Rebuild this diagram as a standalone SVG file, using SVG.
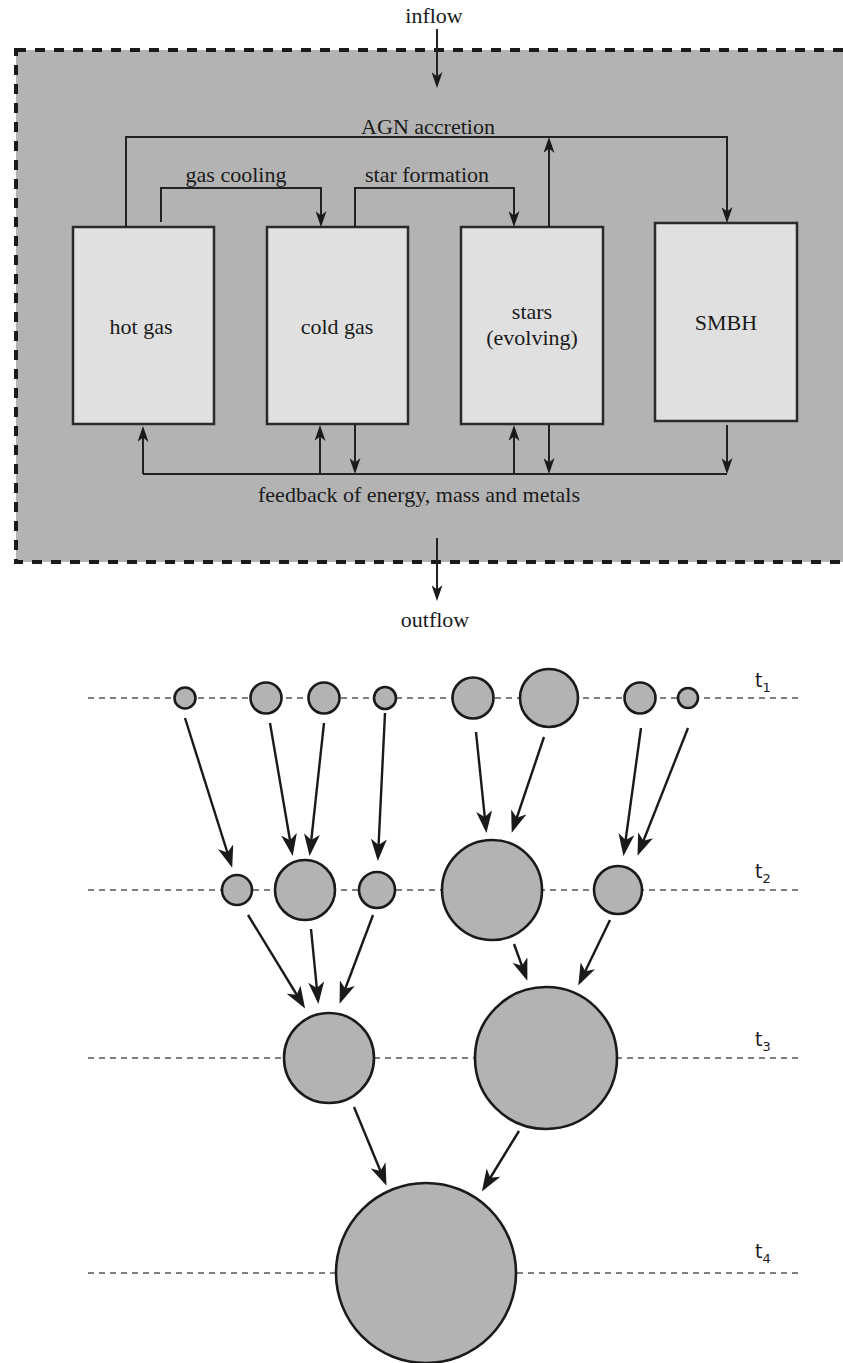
<svg xmlns="http://www.w3.org/2000/svg" width="843" height="1363" viewBox="0 0 843 1363">
<style>
.lbl{font-family:"Liberation Serif","Times New Roman",serif;font-size:22px;fill:#1a1a1a;text-anchor:middle}
.box{fill:#e0e0e0;stroke:#2a2a2a;stroke-width:2.5}
.ln{fill:none;stroke:#222;stroke-width:2}
.ar{fill:none;stroke:#222;stroke-width:2;marker-end:url(#ah)}
.gal{fill:#b3b3b3;stroke:#1a1a1a;stroke-width:2.6}
.tl{stroke:#555;stroke-width:1.3;stroke-dasharray:6 5}
.big{fill:none;stroke:#1a1a1a;stroke-width:2.4;marker-end:url(#bh)}
.tt{font-family:"DejaVu Sans","Noto Sans",sans-serif;font-size:19px;fill:#1a1a1a}
.ts{font-family:"DejaVu Sans","Noto Sans",sans-serif;font-size:13px;fill:#1a1a1a}
</style>
<defs>
<marker id="ah" viewBox="0 0 16 11" refX="12" refY="5.5" markerWidth="16" markerHeight="11" orient="auto" markerUnits="userSpaceOnUse">
<path d="M0,0 L16,5.5 L0,11 L4.5,5.5 Z" fill="#1a1a1a"/>
</marker>
<marker id="bh" viewBox="0 0 22 16" refX="18" refY="8" markerWidth="22" markerHeight="16" orient="auto" markerUnits="userSpaceOnUse">
<path d="M0,0 L22,8 L0,16 L6,8 Z" fill="#1a1a1a"/>
</marker>
</defs>

<!-- enclosing dashed box -->
<rect x="16" y="50" width="840" height="512" fill="#b3b3b3" stroke="#1a1a1a" stroke-width="4" stroke-dasharray="10 9"/>

<g id="inflow">
<text class="lbl" x="434" y="23">inflow</text>
</g>
<g id="outflow">
<text class="lbl" x="435" y="627">outflow</text>
</g>

<g id="hot-gas">
<rect class="box" x="73" y="227" width="141" height="197"/>
<text class="lbl" x="141" y="334">hot gas</text>
</g>
<g id="cold-gas">
<rect class="box" x="267" y="227" width="141" height="197"/>
<text class="lbl" x="337" y="334">cold gas</text>
</g>
<g id="stars">
<rect class="box" x="461" y="227" width="142" height="197"/>
<text class="lbl" x="532" y="319">stars</text>
<text class="lbl" x="532" y="345">(evolving)</text>
</g>
<g id="smbh">
<rect class="box" x="655" y="223" width="142" height="198"/>
<text class="lbl" x="726" y="330">SMBH</text>
</g>

<g id="connectors-top">
<line class="ar" x1="437" y1="29" x2="437" y2="84"/>
<line class="ar" x1="437" y1="538" x2="437" y2="597"/>
<polyline class="ar" points="126,227 126,137 727,137 727,219"/>
<line class="ar" x1="549" y1="227" x2="549" y2="141"/>
<polyline class="ar" points="161,222 161,188 321,188 321,223"/>
<polyline class="ar" points="355,227 355,188 514,188 514,223"/>
<line class="ln" x1="143" y1="474" x2="727" y2="474"/>
<line class="ar" x1="143" y1="474" x2="143" y2="430"/>
<line class="ar" x1="320" y1="474" x2="320" y2="429"/>
<line class="ar" x1="514" y1="474" x2="514" y2="429"/>
<line class="ar" x1="355" y1="425" x2="355" y2="470"/>
<line class="ar" x1="549" y1="425" x2="549" y2="470"/>
<line class="ar" x1="727" y1="425" x2="727" y2="470"/>
<text class="lbl" x="236" y="182">gas cooling</text>
<text class="lbl" x="427" y="182">star formation</text>
<text class="lbl" x="428" y="134">AGN accretion</text>
<text class="lbl" x="419" y="502">feedback of energy, mass and metals</text>
</g>

<!-- merger tree -->
<g id="timelines">
<line class="tl" x1="88" y1="698" x2="800" y2="698"/>
<line class="tl" x1="88" y1="890" x2="800" y2="890"/>
<line class="tl" x1="88" y1="1058" x2="800" y2="1058"/>
<line class="tl" x1="88" y1="1273" x2="800" y2="1273"/>
<text class="tt" x="755" y="687">t<tspan class="ts" dy="5">1</tspan></text>
<text class="tt" x="755" y="878">t<tspan class="ts" dy="5">2</tspan></text>
<text class="tt" x="755" y="1046">t<tspan class="ts" dy="5">3</tspan></text>
<text class="tt" x="755" y="1258">t<tspan class="ts" dy="5">4</tspan></text>
</g>

<g id="t1-1"><circle class="gal" cx="185" cy="698" r="10.5"/></g>
<g id="t1-2"><circle class="gal" cx="266" cy="698" r="15.5"/></g>
<g id="t1-3"><circle class="gal" cx="324" cy="698" r="15.5"/></g>
<g id="t1-4"><circle class="gal" cx="385" cy="698" r="11"/></g>
<g id="t1-5"><circle class="gal" cx="473" cy="698" r="20.5"/></g>
<g id="t1-6"><circle class="gal" cx="549" cy="698" r="29"/></g>
<g id="t1-7"><circle class="gal" cx="640" cy="698" r="15.5"/></g>
<g id="t1-8"><circle class="gal" cx="688" cy="698" r="10"/></g>

<g id="t2-1"><circle class="gal" cx="237" cy="890" r="15"/></g>
<g id="t2-2"><circle class="gal" cx="305" cy="890" r="30"/></g>
<g id="t2-3"><circle class="gal" cx="377" cy="890" r="18"/></g>
<g id="t2-4"><circle class="gal" cx="492" cy="890" r="50"/></g>
<g id="t2-5"><circle class="gal" cx="618" cy="890" r="24"/></g>

<g id="t3-1"><circle class="gal" cx="329" cy="1058" r="45"/></g>
<g id="t3-2"><circle class="gal" cx="546" cy="1058" r="71"/></g>

<g id="t4-1"><circle class="gal" cx="426" cy="1273" r="90"/></g>

<g id="connectors-tree">
<line class="big" x1="185" y1="718" x2="231" y2="864"/>
<line class="big" x1="270" y1="723" x2="292" y2="852"/>
<line class="big" x1="324" y1="723" x2="310" y2="852"/>
<line class="big" x1="385" y1="713" x2="378" y2="857"/>
<line class="big" x1="476" y1="732" x2="486" y2="829"/>
<line class="big" x1="544" y1="737" x2="513" y2="829"/>
<line class="big" x1="641" y1="728" x2="624" y2="852"/>
<line class="big" x1="688" y1="728" x2="639" y2="852"/>
<line class="big" x1="248" y1="915" x2="303" y2="1005"/>
<line class="big" x1="311" y1="929" x2="318" y2="1000"/>
<line class="big" x1="373" y1="915" x2="341" y2="1000"/>
<line class="big" x1="514" y1="944" x2="526" y2="977"/>
<line class="big" x1="610" y1="920" x2="580" y2="982"/>
<line class="big" x1="354" y1="1107" x2="385" y2="1182"/>
<line class="big" x1="519" y1="1131" x2="484" y2="1188"/>
</g>
</svg>
